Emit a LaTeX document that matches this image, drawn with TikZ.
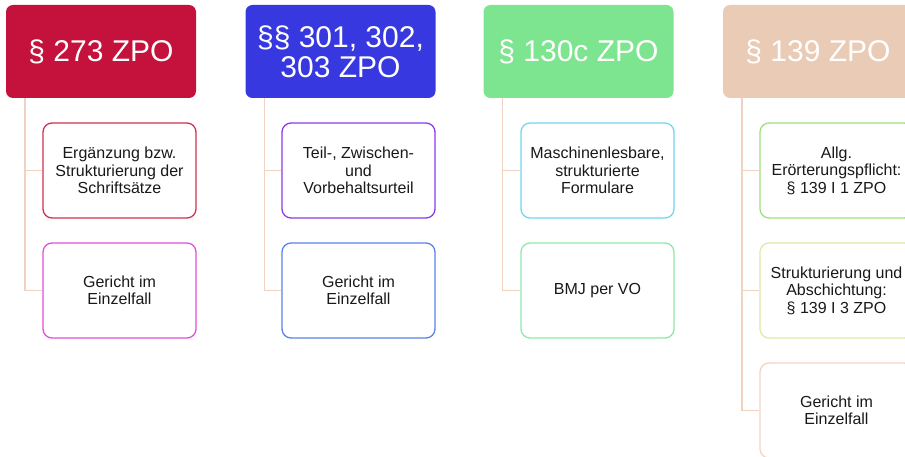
\documentclass[tikz,border=0pt]{standalone}
\usepackage{fontspec}
\setmainfont{Liberation Sans}
\usepackage{tikz}
\usetikzlibrary{positioning}

\definecolor{kopfA}{HTML}{C5123C}
\definecolor{kopfB}{HTML}{3838E0}
\definecolor{kopfC}{HTML}{7DE490}
\definecolor{kopfD}{HTML}{EACBB5}
\definecolor{linie}{HTML}{EFD2C0}
\definecolor{randA}{HTML}{D1304F}
\definecolor{randB}{HTML}{E24FD8}
\definecolor{randC}{HTML}{8A3BE8}
\definecolor{randD}{HTML}{5B80E8}
\definecolor{randE}{HTML}{70D8EE}
\definecolor{randF}{HTML}{8EE8AA}
\definecolor{randG}{HTML}{9DE07E}
\definecolor{randH}{HTML}{DDEBA8}
\definecolor{randI}{HTML}{F3D4C2}

\tikzset{
  kopf/.style={rounded corners=7pt, minimum width=190pt, minimum height=93pt,
    inner sep=0pt, text=white, align=center,
    font=\fontsize{30}{30}\selectfont},
  feld/.style={draw, line width=1.3pt, rounded corners=9pt, fill=white,
    minimum width=153pt, minimum height=95pt, inner sep=0pt, align=center,
    text=black!90, font=\fontsize{16}{17.5}\selectfont},
  verbinder/.style={linie, line width=1.5pt}
}

\begin{document}
\begin{tikzpicture}[x=1pt,y=1pt]
\useasboundingbox (0,0) rectangle (905,-457);
\clip (0,0) rectangle (905,-457);

% Kopfzeile
\node[kopf, fill=kopfA] (k1) at (101,-51.5) {\S\ 273 ZPO};
\node[kopf, fill=kopfB] (k2) at (340.5,-51.5) {\S\S\ 301, 302,\\303 ZPO};
\node[kopf, fill=kopfC] (k3) at (578.5,-51.5) {\S\ 130c ZPO};
\node[kopf, fill=kopfD] (k4) at (818,-51.5) {\S\ 139 ZPO};

% Unterpunkte
\node[feld, draw=randA] (f11) at (119.5,-170.5) {Ergänzung bzw.\\Strukturierung der\\Schriftsätze};
\node[feld, draw=randB] (f12) at (119.5,-290.5) {Gericht im\\Einzelfall};

\node[feld, draw=randC] (f21) at (358.5,-170.5) {Teil-, Zwischen-\\und\\Vorbehaltsurteil};
\node[feld, draw=randD] (f22) at (358.5,-290.5) {Gericht im\\Einzelfall};

\node[feld, draw=randE] (f31) at (597.5,-170.5) {Maschinenlesbare,\\strukturierte\\Formulare};
\node[feld, draw=randF] (f32) at (597.5,-290.5) {BMJ per VO};

\node[feld, draw=randG] (f41) at (836.5,-170.5) {Allg.\\Erörterungspflicht:\\\S\ 139 I 1 ZPO};
\node[feld, draw=randH] (f42) at (836.5,-290.5) {Strukturierung und\\Abschichtung:\\\S\ 139 I 3 ZPO};
\node[feld, draw=randI] (f43) at (836.5,-410.5) {Gericht im\\Einzelfall};

% Verbinder
\draw[verbinder] ([xshift=19pt]k1.south west) |- (f11.west);
\draw[verbinder] ([xshift=19pt]k1.south west) |- (f12.west);
\draw[verbinder] ([xshift=19pt]k2.south west) |- (f21.west);
\draw[verbinder] ([xshift=19pt]k2.south west) |- (f22.west);
\draw[verbinder] ([xshift=19pt]k3.south west) |- (f31.west);
\draw[verbinder] ([xshift=19pt]k3.south west) |- (f32.west);
\draw[verbinder] ([xshift=19pt]k4.south west) |- (f41.west);
\draw[verbinder] ([xshift=19pt]k4.south west) |- (f42.west);
\draw[verbinder] ([xshift=19pt]k4.south west) |- (f43.west);
\end{tikzpicture}
\end{document}
